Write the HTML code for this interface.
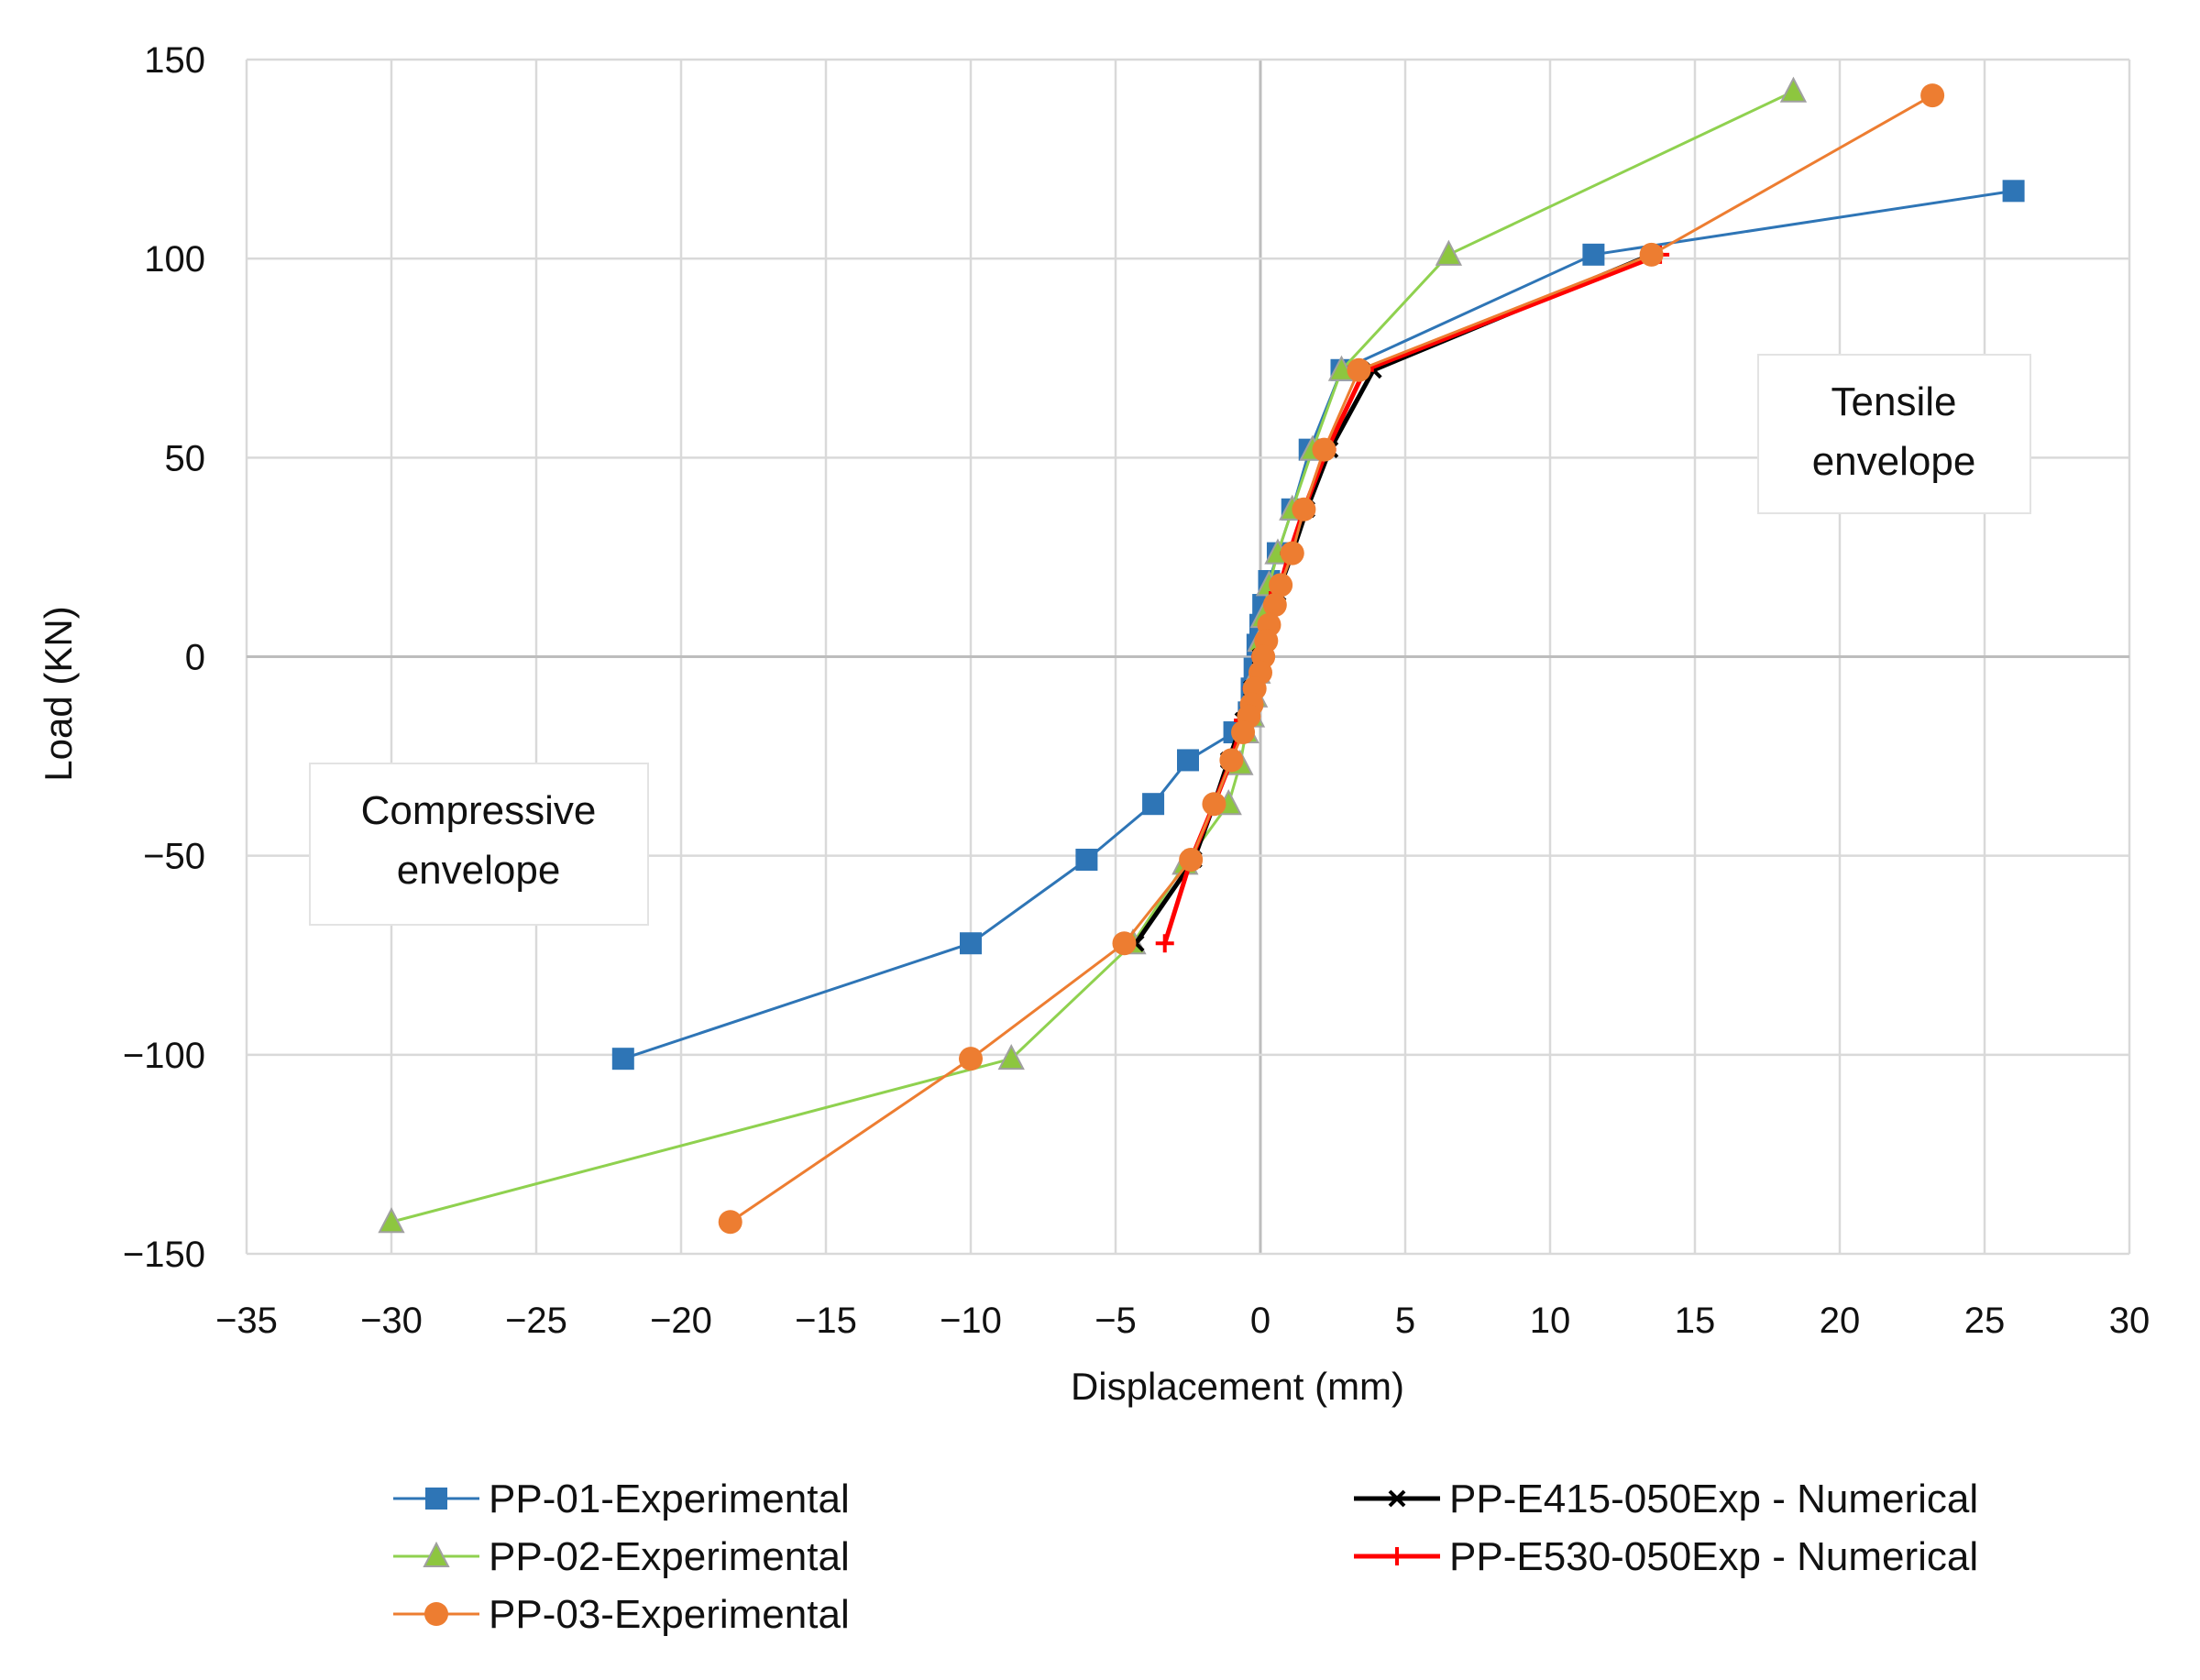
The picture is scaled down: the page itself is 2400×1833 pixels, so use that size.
<!DOCTYPE html>
<html><head><meta charset="utf-8">
<style>
html,body{margin:0;padding:0;background:#fff;}
svg{display:block;font-family:"Liberation Sans",sans-serif;}
</style></head>
<body>
<svg id="chart" width="2400" height="1833" viewBox="0 0 2400 1833" xmlns="http://www.w3.org/2000/svg">
<rect x="0" y="0" width="2400" height="1833" fill="#fff"/>
<g id="grid"></g>
<g id="ticks"></g>
<text transform="translate(78,757) rotate(-90)" text-anchor="middle" font-size="42" fill="#111">Load (KN)</text>
<text x="1350" y="1527" text-anchor="middle" font-size="42" fill="#111">Displacement (mm)</text>
<g>
<rect x="1918" y="387" width="297" height="173" fill="#fff" stroke="#e3e3e3" stroke-width="2"/>
<text x="2066" y="453" text-anchor="middle" font-size="44" fill="#111">Tensile</text>
<text x="2066" y="518" text-anchor="middle" font-size="44" fill="#111">envelope</text>
</g>
<g>
<rect x="338" y="833" width="369" height="176" fill="#fff" stroke="#e3e3e3" stroke-width="2"/>
<text x="522" y="899" text-anchor="middle" font-size="44" fill="#111">Compressive</text>
<text x="522" y="964" text-anchor="middle" font-size="44" fill="#111">envelope</text>
</g>
<g id="series"></g>
<g id="legend"></g>
</svg>
<script>
const xTicks = [-35,-30,-25,-20,-15,-10,-5,0,5,10,15,20,25,30];
const yTicks = [150,100,50,0,-50,-100,-150];
const pp01X = [26,11.5,2.8,1.7,1.1,0.6,0.3,0.1,0,-0.1,-0.2,-0.3,-0.4,-0.9,-2.5,-3.7,-6,-10,-22];
const pp01Y = [117,101,72,52,37,26,19,13,8,3,-3,-8,-14,-19,-26,-37,-51,-72,-101];
const pp02X = [18.4,6.5,2.8,1.8,1.1,0.6,0.3,0.1,0,-0.1,-0.2,-0.3,-0.5,-0.7,-1.1,-2.6,-4.4,-8.6,-30];
const pp02Y = [142,101,72,52,37,26,18,10,4,-4,-10,-15,-19,-27,-37,-52,-72,-101,-142];
const pp03X = [23.2,13.5,3.4,2.2,1.5,1.1,0.7,0.5,0.3,0.2,0.1,0,-0.2,-0.3,-0.4,-0.6,-1,-1.6,-2.4,-4.7,-10,-18.3];
const pp03Y = [141,101,72,52,37,26,18,13,8,4,0,-4,-8,-12,-15,-19,-26,-37,-51,-72,-101,-142];
const e415X = [13.5,3.9,2.4,1.6,1.1,0.6,0.3,0,-0.3,-0.6,-1.1,-1.6,-2.3,-4.3];
const e415Y = [101,72,52,37,26,16,8,0,-8,-16,-26,-37,-51,-72];
const e530X = [13.8,3.6,2.3,1.5,1.0,0.6,0.3,0,-0.3,-0.6,-1.0,-1.6,-2.4,-3.3];
const e530Y = [101,72,52,37,26,16,8,0,-8,-16,-26,-37,-51,-72];

const L=269,R=2323,T=65,B=1368;
const xMin=-35,xMax=30,yMin=-150,yMax=150;
function sx(v){return L+(v-xMin)/(xMax-xMin)*(R-L);}
function sy(v){return B-(v-yMin)/(yMax-yMin)*(B-T);}
const NS="http://www.w3.org/2000/svg";
function mk(tag,parent,attrs){const e=document.createElementNS(NS,tag);for(const k in attrs)e.setAttribute(k,attrs[k]);parent.appendChild(e);return e;}
const grid=document.getElementById('grid'),ticks=document.getElementById('ticks'),series=document.getElementById('series'),legend=document.getElementById('legend');

xTicks.forEach(v=>{
  const isZero=v===0;
  const l=mk('line',grid,{x1:sx(v),x2:sx(v),y1:T,y2:B,stroke:isZero?'#bdbdbd':'#d9d9d9','stroke-width':isZero?3:2.5});
  
  
  const t=mk('text',ticks,{x:sx(v),y:1454,'text-anchor':'middle','font-size':40,fill:'#111'});
  t.textContent=(v<0?'\u2212'+(-v):String(v));
  
  
});
yTicks.forEach(v=>{
  const isZero=v===0;
  const l=mk('line',grid,{x1:L,x2:R,y1:sy(v),y2:sy(v),stroke:isZero?'#bdbdbd':'#d9d9d9','stroke-width':isZero?3:2.5});
  
  
  const t=mk('text',ticks,{x:224,y:sy(v)+14,'text-anchor':'end','font-size':40,fill:'#111'});
  t.textContent=(v<0?'\u2212'+(-v):String(v));
  
  
});

function marker(g,type,x,y,color){
  let e;
  if(type==='square'){e=mk('rect',g,{x:x-12,y:y-12,width:24,height:24,fill:color});}
  else if(type==='triangle'){e=mk('polygon',g,{points:`${x},${y-14} ${x+13},${y+11} ${x-13},${y+11}`,fill:'#8dc63f',stroke:'#a0a0a0','stroke-width':2});}
  else if(type==='circle'){e=mk('circle',g,{cx:x,cy:y,r:13,fill:color});}
  else if(type==='x'){e=mk('path',g,{d:`M${x-8},${y-8}L${x+8},${y+8}M${x-8},${y+8}L${x+8},${y-8}`,stroke:color,'stroke-width':4});}
  else if(type==='plus'){e=mk('path',g,{d:`M${x-10},${y}L${x+10},${y}M${x},${y-10}L${x},${y+10}`,stroke:color,'stroke-width':4});}
  return e;
}
function drawSeries(name,xs,ys,color,width,type){
  const g=mk('g',series,{});
  
  
  const pts=xs.map((x,i)=>sx(x)+','+sy(ys[i])).join(' ');
  const pl=mk('polyline',g,{points:pts,fill:'none',stroke:color,'stroke-width':width,'stroke-linejoin':'round'});
  
  
  xs.forEach((x,i)=>{
    const m=marker(g,type,sx(x),sy(ys[i]),color);
    
    
  });
}
drawSeries('pp-01-experimental',pp01X,pp01Y,'#2e75b6',3,'square');
drawSeries('pp-02-experimental',pp02X,pp02Y,'#8fd14f',3,'triangle');
drawSeries('pp-e415-numerical',e415X,e415Y,'#000000',5,'x');
drawSeries('pp-e530-numerical',e530X,e530Y,'#ff0000',5,'plus');
drawSeries('pp-03-experimental',pp03X,pp03Y,'#ed7d31',3,'circle');

const legendItems=[
 {n:'legend-pp-01',label:'PP-01-Experimental',color:'#2e75b6',w:3,type:'square',x:429,y:1635},
 {n:'legend-pp-02',label:'PP-02-Experimental',color:'#8fd14f',w:3,type:'triangle',x:429,y:1698},
 {n:'legend-pp-03',label:'PP-03-Experimental',color:'#ed7d31',w:3,type:'circle',x:429,y:1761},
 {n:'legend-pp-e415',label:'PP-E415-050Exp - Numerical',color:'#000000',w:5,type:'x',x:1477,y:1635},
 {n:'legend-pp-e530',label:'PP-E530-050Exp - Numerical',color:'#ff0000',w:5,type:'plus',x:1477,y:1698}
];
legendItems.forEach(it=>{
  const g=mk('g',legend,{});
  
  
  mk('line',g,{x1:it.x,x2:it.x+94,y1:it.y,y2:it.y,stroke:it.color,'stroke-width':it.w});
  marker(g,it.type,it.x+47,it.y,it.color);
  const t=mk('text',g,{x:it.x+104,y:it.y+15,'font-size':44,fill:'#111'});
  t.textContent=it.label;
});
</script>
</body></html>
